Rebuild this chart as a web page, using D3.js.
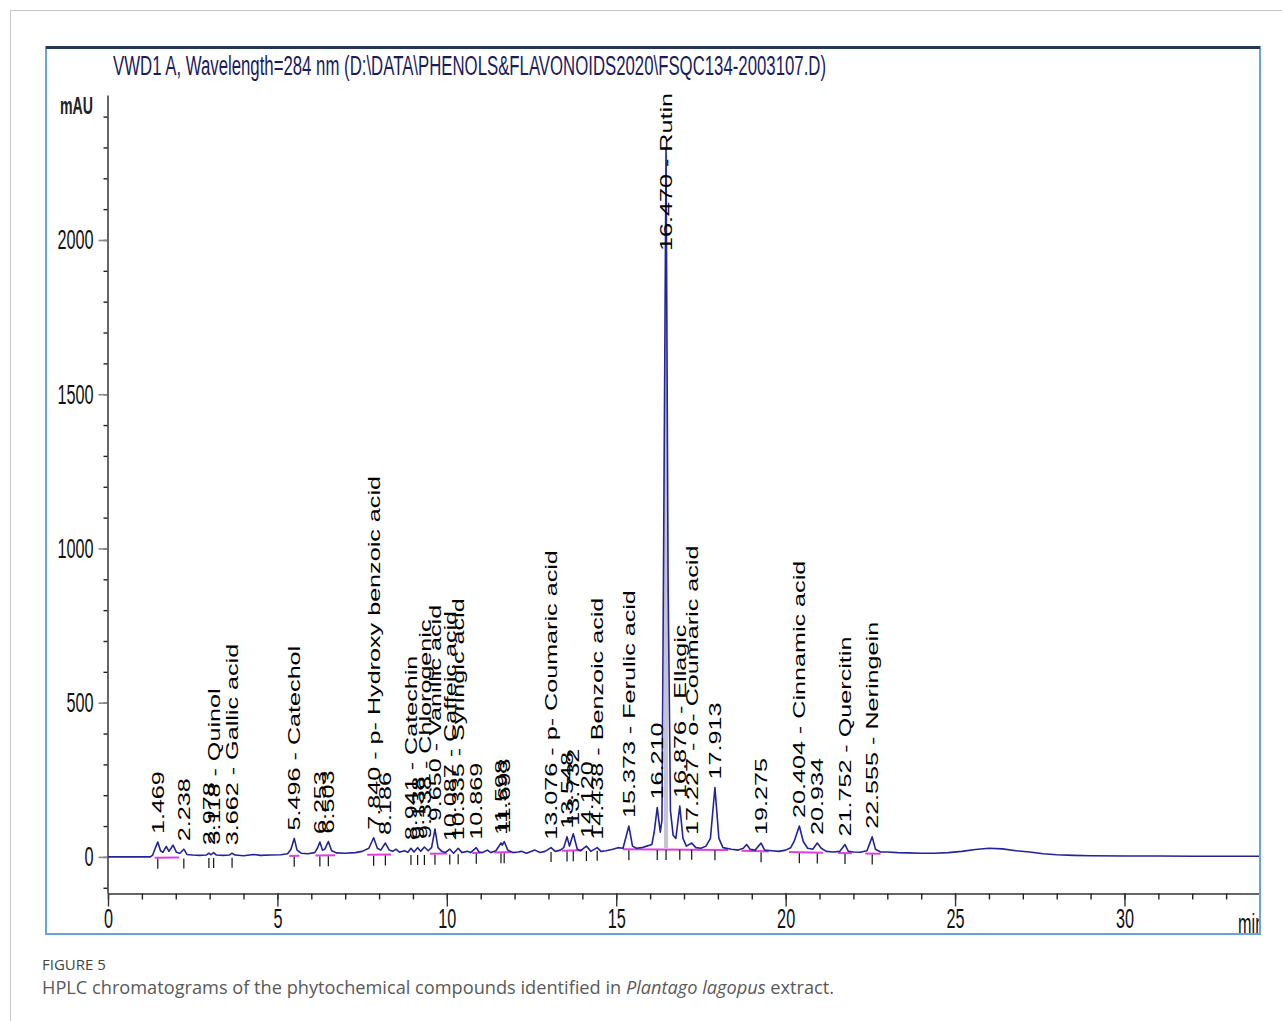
<!DOCTYPE html>
<html>
<head>
<meta charset="utf-8">
<script src="https://cdn.jsdelivr.net/npm/d3@7/dist/d3.min.js"></script>
<style>
  html, body { margin: 0; padding: 0; background: #fff; }
  svg { display: block; }
</style>
</head>
<body>
<svg id="fig" width="1282" height="1021"></svg>
<script>
// Retention times (min) of integrated peaks, their compound names and apex heights (mAU)
const peakTimes = [1.469, 2.238, 2.978, 3.118, 3.662, 5.496, 6.253, 6.503, 7.840, 8.186,
  8.941, 9.138, 9.338, 9.650, 10.087, 10.335, 10.869, 11.598, 11.693, 13.076,
  13.548, 13.732, 14.120, 14.438, 15.373, 16.210, 16.470, 16.876, 17.227, 17.913,
  19.275, 20.404, 20.934, 21.752, 22.555];
const peakNames = ["", "", "", "Quinol", "Gallic acid", "Catechol", "", "", "p- Hydroxy benzoic acid", "",
  "Catechin", "", "Chlorogenic", "Vanillic acid", "Caffeic acid", "Syringic acid", "", "", "", "p- Coumaric acid",
  "", "", "", "Benzoic acid", "Ferulic acid", "", "Rutin", "Ellagic", "o- Coumaric acid", "",
  "", "Cinnamic acid", "", "Quercitin", "Neringein"];
const peakApex = [48, 25, 12, 14, 12, 60, 48, 50, 62, 45,
  28, 30, 32, 90, 25, 28, 30, 45, 50, 30,
  65, 75, 35, 30, 100, 160, 2300, 165, 45, 225,
  45, 100, 45, 40, 65];

// Detector signal, [time (min), absorbance (mAU)]
const trace = [
  [0,0],[1.25,0],[1.32,6],[1.40,30],[1.469,48],[1.55,20],[1.62,15],[1.72,34],[1.80,18],[1.92,38],
  [2.02,15],[2.12,12],[2.238,25],[2.33,8],[2.5,6],[2.7,5],[2.9,6],[2.978,12],[3.04,7],[3.118,14],
  [3.2,6],[3.4,5],[3.58,6],[3.662,12],[3.75,6],[4.0,4],[4.3,8],[4.5,5],[4.8,6],[5.1,7],
  [5.3,10],[5.40,25],[5.496,60],[5.58,22],[5.7,12],[5.9,10],[6.1,14],[6.18,28],[6.253,48],[6.33,22],
  [6.40,25],[6.503,50],[6.6,20],[6.75,13],[7.0,12],[7.3,14],[7.5,18],[7.7,28],[7.840,62],[7.95,28],
  [8.05,22],[8.186,45],[8.3,22],[8.4,18],[8.5,25],[8.6,15],[8.75,20],[8.85,15],[8.941,28],[9.03,16],
  [9.138,30],[9.23,18],[9.338,32],[9.45,20],[9.55,30],[9.650,90],[9.74,30],[9.85,18],[9.95,14],[10.087,25],
  [10.2,12],[10.335,28],[10.45,14],[10.6,18],[10.7,14],[10.869,30],[10.95,16],[11.05,14],[11.2,22],[11.3,14],
  [11.45,20],[11.598,45],[11.64,38],[11.693,50],[11.8,22],[11.95,14],[12.1,16],[12.2,18],[12.35,12],[12.6,22],
  [12.75,14],[12.9,18],[13.076,30],[13.2,18],[13.35,22],[13.45,30],[13.548,65],[13.62,35],[13.732,75],[13.85,25],
  [13.95,20],[14.120,35],[14.25,18],[14.438,30],[14.55,18],[14.7,20],[14.9,25],[15.05,30],[15.2,28],[15.373,100],
  [15.48,35],[15.6,28],[15.75,30],[15.9,35],[16.05,40],[16.12,80],[16.210,160],[16.30,80],[16.35,120],[16.41,1200],
  [16.470,2300],[16.53,900],[16.60,150],[16.68,70],[16.76,60],[16.876,165],[16.97,60],[17.07,35],[17.227,45],[17.35,30],
  [17.5,28],[17.65,35],[17.78,60],[17.913,225],[18.03,60],[18.15,30],[18.4,25],[18.6,22],[18.75,28],[18.85,40],
  [18.95,25],[19.1,22],[19.275,45],[19.38,22],[19.6,20],[19.8,18],[20.0,22],[20.15,30],[20.25,50],[20.404,100],
  [20.52,50],[20.65,28],[20.8,25],[20.934,45],[21.05,28],[21.2,18],[21.4,16],[21.6,18],[21.752,40],[21.85,18],
  [22.0,16],[22.2,15],[22.4,20],[22.555,65],[22.65,25],[22.8,16],[23.0,16],[23.3,14],[23.6,13],[24.0,12],
  [24.4,12],[24.8,14],[25.2,18],[25.6,24],[26.0,28],[26.4,26],[26.8,20],[27.2,16],[27.6,10],[28.0,7],
  [28.5,5],[29.0,4],[30.0,3],[31.0,3],[32.0,2],[34.0,2]
];

// Drifting integration baseline: knot times and levels (mAU)
const baseTimes = [0, 1.25, 5, 10, 15, 17.5, 19, 22, 24, 26, 27, 28.5, 34];
const baseLevels = [0, 0, 6, 14, 28, 30, 22, 15, 12, 26, 17, 5, 2];

// Integration windows drawn as baseline segments
const intStart = [1.38, 5.35, 6.12, 7.65, 9.50, 10.75, 11.40, 13.40, 15.20, 18.70, 20.10, 21.55, 22.35];
const intEnd   = [2.10, 5.65, 6.70, 8.35, 10.0, 11.00, 11.90, 14.00, 18.30, 19.50, 21.10, 21.95, 22.80];

// Axis ticks
const xMajorTicks = [0, 5, 10, 15, 20, 25, 30];
const yMajorTicks = [0, 500, 1000, 1500, 2000];

const titleText = "VWD1 A, Wavelength=284 nm (D:\\DATA\\PHENOLS&FLAVONOIDS2020\\FSQC134-2003107.D)";

const svg = d3.select("#fig");

// Page frame
svg.append("line").attr("x1", 10).attr("x2", 1282).attr("y1", 10.5).attr("y2", 10.5)
  .attr("stroke", "#c9c9c9").attr("stroke-width", 1);
svg.append("line").attr("x1", 10.5).attr("x2", 10.5).attr("y1", 10).attr("y2", 1021)
  .attr("stroke", "#c9c9c9").attr("stroke-width", 1);

// Chart panel
svg.append("rect").attr("x", 46).attr("y", 47).attr("width", 1214).attr("height", 887)
  .attr("fill", "#fff").attr("stroke", "#6aa3d8").attr("stroke-width", 2);
svg.append("line").attr("x1", 46).attr("x2", 1260).attr("y1", 47.5).attr("y2", 47.5)
  .attr("stroke", "#24375a").attr("stroke-width", 3);

const defs = svg.append("defs");
defs.append("clipPath").attr("id", "panel")
  .append("rect").attr("x", 47).attr("y", 49).attr("width", 1212).attr("height", 884);

const x = d3.scaleLinear().domain([0, 34]).range([108, 1260]);
const y = d3.scaleLinear().domain([-117, 2470]).range([893, 95]);
const base = d3.scaleLinear().domain(baseTimes).range(baseLevels);

const plot = svg.append("g").attr("clip-path", "url(#panel)");

// Title
plot.append("text")
  .attr("x", 113).attr("y", 75)
  .attr("font-family", "Liberation Sans, Arial, sans-serif")
  .attr("font-size", 27)
  .attr("fill", "#1b1b5e")
  .attr("textLength", 713)
  .attr("lengthAdjust", "spacingAndGlyphs")
  .text(titleText);

// Y axis: minor ticks every 100 mAU, major every 500 mAU
const yMinor = d3.axisLeft(y).tickValues(d3.range(-100, 2401, 100)).tickSize(4).tickFormat("").tickSizeOuter(0);
const yMajor = d3.axisLeft(y).tickValues(yMajorTicks).tickSize(9).tickSizeOuter(0).tickFormat(d3.format("d"));

const gyMinor = plot.append("g").attr("transform", "translate(107.5,0)").call(yMinor);
gyMinor.select(".domain").attr("stroke", "#333").attr("stroke-width", 1.5);
gyMinor.selectAll(".tick line").attr("stroke", "#222").attr("stroke-width", 1.4);

const gyMajor = plot.append("g").attr("transform", "translate(107.5,0)").call(yMajor);
gyMajor.select(".domain").remove();
gyMajor.selectAll(".tick line").attr("stroke", "#8a8a8a").attr("stroke-width", 1.6);
gyMajor.selectAll(".tick text")
  .attr("font-family", "Liberation Sans, Arial, sans-serif")
  .attr("font-size", 28)
  .attr("fill", "#111")
  .attr("x", -14 / 0.58)
  .attr("transform", "scale(0.58,1)");

plot.append("text")
  .attr("x", 93).attr("y", 114)
  .attr("text-anchor", "end")
  .attr("font-family", "Liberation Sans, Arial, sans-serif")
  .attr("font-weight", "bold")
  .attr("font-size", 23)
  .attr("fill", "#222")
  .attr("textLength", 33)
  .attr("lengthAdjust", "spacingAndGlyphs")
  .text("mAU");

// X axis: minor ticks every minute, major every 5 minutes
const xMinor = d3.axisBottom(x).tickValues(d3.range(0, 35, 1)).tickSize(6).tickFormat("").tickSizeOuter(0);
const xMajor = d3.axisBottom(x).tickValues(xMajorTicks).tickSize(13).tickPadding(2).tickSizeOuter(0).tickFormat(d3.format("d"));

const gxMinor = plot.append("g").attr("transform", "translate(0,893.5)").call(xMinor);
gxMinor.select(".domain").attr("stroke", "#333").attr("stroke-width", 1.5);
gxMinor.selectAll(".tick line").attr("stroke", "#222").attr("stroke-width", 1.4);

const gxMajor = plot.append("g").attr("transform", "translate(0,893.5)").call(xMajor);
gxMajor.select(".domain").remove();
gxMajor.selectAll(".tick line").attr("stroke", "#333").attr("stroke-width", 1.4);
gxMajor.selectAll(".tick text")
  .attr("font-family", "Liberation Sans, Arial, sans-serif")
  .attr("font-size", 28)
  .attr("fill", "#111")
  .attr("transform", "scale(0.58,1)");

plot.append("text")
  .attr("transform", "translate(1238,933) scale(0.58,1)")
  .attr("font-family", "Liberation Sans, Arial, sans-serif")
  .attr("font-size", 28)
  .attr("fill", "#111")
  .text("min");

// Integration baselines
const segs = intStart.map((s, i) => [s, intEnd[i]]);
plot.append("g").selectAll("line").data(segs).join("line")
  .attr("x1", d => x(d[0])).attr("x2", d => x(d[1]))
  .attr("y1", d => y(base(d[0])) + 1).attr("y2", d => y(base(d[1])) + 1)
  .attr("stroke", "#e23ee0").attr("stroke-width", 2);

// Shaded core of the main peak
const rutinCore = trace.filter(d => d[0] >= 16.41 && d[0] <= 16.53);
plot.append("path")
  .datum(rutinCore)
  .attr("d", d3.area().x(d => x(d[0])).y0(d => y(base(d[0]))).y1(d => y(d[1])))
  .attr("fill", "#c4c4d2");

// Signal trace
plot.append("path")
  .datum(trace)
  .attr("d", d3.line().x(d => x(d[0])).y(d => y(d[1])))
  .attr("fill", "none")
  .attr("stroke", "#23239a")
  .attr("stroke-width", 1.6)
  .attr("stroke-linejoin", "round");

// Retention time markers under each peak
plot.append("g").selectAll("line").data(peakTimes).join("line")
  .attr("x1", d => x(d)).attr("x2", d => x(d))
  .attr("y1", d => y(base(d)) + 2).attr("y2", d => y(base(d)) + 12)
  .attr("stroke", "#111").attr("stroke-width", 1.2);

// Peak labels, rotated, sitting above each apex
const labelScale = 1.48;
const fmt = d3.format(".3f");
const labels = plot.append("g");
peakTimes.forEach((t, i) => {
  const txt = peakNames[i] ? fmt(t) + " - " + peakNames[i] : fmt(t);
  const el = labels.append("text")
    .attr("font-family", "Liberation Sans, Arial, sans-serif")
    .attr("font-size", 17)
    .attr("fill", "#000")
    .attr("dy", "0.36em")
    .text(txt);
  const len = el.node().getComputedTextLength() * labelScale;
  let bottom = y(peakApex[i]) - 8;
  if (bottom - len < 93) bottom = 93 + len;
  el.attr("transform", `translate(${x(t)},${bottom}) rotate(-90) scale(${labelScale},1)`);
});

// Caption
svg.append("text")
  .attr("x", 42).attr("y", 970)
  .attr("font-family", "Open Sans, sans-serif")
  .attr("font-size", 15)
  .attr("fill", "#444")
  .text("FIGURE 5");

const cap = svg.append("text")
  .attr("x", 42).attr("y", 994)
  .attr("font-family", "Open Sans, sans-serif")
  .attr("font-size", 18.2)
  .attr("fill", "#595959");
cap.append("tspan").text("HPLC chromatograms of the phytochemical compounds identified in ");
cap.append("tspan").attr("font-style", "italic").text("Plantago lagopus");
cap.append("tspan").text(" extract.");
</script>
</body>
</html>
